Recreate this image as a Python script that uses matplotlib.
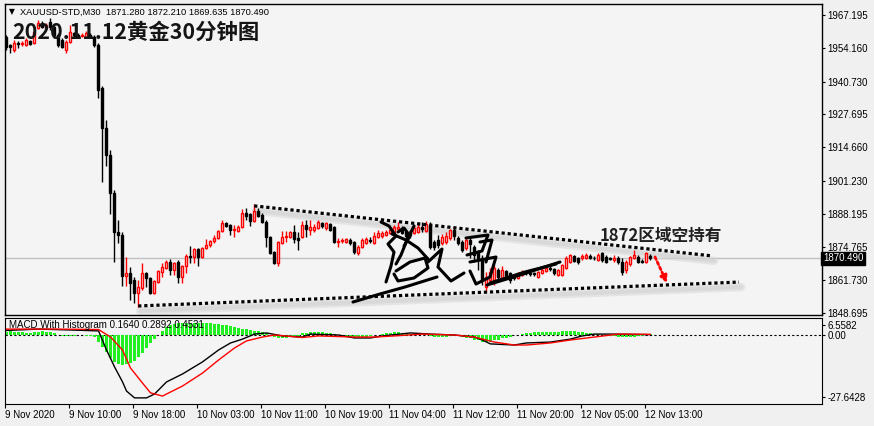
import matplotlib
matplotlib.use("Agg")
import matplotlib.pyplot as plt
from matplotlib.transforms import ScaledTranslation
import numpy as np

plt.rcParams["font.family"] = ["Liberation Sans", "DejaVu Sans"]

# XAUUSD M30 candles (oldest first)
opens = [
    1958.4, 1955.3, 1953.3, 1956.1, 1955.7, 1955.3, 1956.9, 1956.1, 1962.0, 1964.0,
    1962.0, 1964.4, 1962.4, 1959.2, 1957.3, 1953.3, 1956.5, 1960.0, 1959.2, 1959.0,
    1958.4, 1959.2, 1958.4, 1955.3, 1938.2, 1922.3, 1911.5, 1896.4, 1880.9, 1879.7,
    1863.4, 1864.6, 1861.8, 1856.7, 1858.6, 1864.6, 1862.6, 1856.7, 1861.0, 1865.0,
    1866.6, 1869.0, 1865.8, 1869.0, 1863.0, 1867.4, 1871.4, 1871.0, 1874.2, 1871.0,
    1874.6, 1875.8, 1877.3, 1878.5, 1881.3, 1884.5, 1883.7, 1881.7, 1881.3, 1882.9,
    1888.5, 1888.1, 1885.3, 1889.3, 1887.7, 1884.9, 1878.9, 1873.0, 1868.6, 1876.5,
    1878.9, 1878.9, 1880.9, 1878.5, 1878.9, 1883.7, 1881.7, 1881.7, 1882.5, 1884.5,
    1882.5, 1884.1, 1882.9, 1876.9, 1877.3, 1876.9, 1877.7, 1876.9, 1872.6, 1875.0,
    1876.5, 1877.7, 1876.5, 1878.9, 1879.3, 1879.7, 1880.5, 1880.9, 1882.1, 1882.5,
    1880.9, 1880.9, 1880.5, 1880.9, 1882.9, 1881.3, 1883.7, 1876.9, 1877.7, 1876.5,
    1876.9, 1878.5, 1881.7, 1878.5, 1876.9, 1874.6, 1877.7, 1875.0, 1873.0, 1870.6,
    1859.0, 1861.8, 1861.8, 1865.8, 1862.6, 1865.4, 1864.6, 1863.0, 1862.6, 1863.8,
    1865.0, 1864.6, 1864.6, 1863.0, 1864.6, 1865.4, 1866.6, 1866.2, 1863.8, 1863.8,
    1866.6, 1869.0, 1871.4, 1870.6, 1870.6, 1870.6, 1871.4, 1870.6, 1869.8, 1872.6,
    1871.0, 1870.6, 1869.8, 1870.6, 1869.0, 1865.8, 1868.2, 1870.6, 1871.0, 1869.4,
    1869.0, 1871.28,
]
highs = [
    1959.2, 1955.7, 1957.3, 1956.9, 1956.9, 1958.0, 1957.3, 1961.2, 1965.2, 1964.8,
    1964.0, 1966.0, 1963.2, 1960.0, 1958.0, 1957.3, 1963.2, 1960.4, 1960.0, 1960.0,
    1960.8, 1960.0, 1959.2, 1956.1, 1939.0, 1925.5, 1913.5, 1897.6, 1885.7, 1880.9,
    1871.0, 1867.0, 1863.0, 1861.8, 1868.6, 1865.0, 1863.0, 1861.8, 1865.8, 1868.6,
    1869.8, 1870.2, 1869.0, 1869.8, 1867.8, 1872.2, 1875.4, 1874.6, 1874.6, 1875.0,
    1878.1, 1877.7, 1879.7, 1881.7, 1885.7, 1884.9, 1884.1, 1883.7, 1883.7, 1890.1,
    1890.5, 1888.5, 1892.0, 1890.5, 1888.5, 1885.7, 1879.3, 1873.4, 1877.3, 1881.3,
    1881.3, 1881.3, 1883.7, 1880.9, 1885.3, 1885.7, 1885.7, 1884.1, 1885.7, 1884.9,
    1884.9, 1884.5, 1883.3, 1878.5, 1878.5, 1878.5, 1878.5, 1877.3, 1875.8, 1878.5,
    1878.9, 1878.9, 1880.9, 1881.7, 1881.3, 1881.7, 1882.9, 1883.7, 1884.9, 1883.3,
    1881.7, 1881.7, 1883.7, 1884.1, 1884.9, 1885.3, 1884.9, 1877.7, 1879.7, 1880.1,
    1880.9, 1882.1, 1882.5, 1879.3, 1877.7, 1878.5, 1878.9, 1875.8, 1873.8, 1871.8,
    1865.0, 1866.6, 1867.8, 1866.6, 1867.4, 1865.8, 1865.0, 1863.8, 1865.0, 1865.8,
    1865.4, 1865.4, 1865.0, 1865.4, 1866.6, 1867.4, 1867.4, 1866.6, 1866.2, 1868.2,
    1871.4, 1872.2, 1871.8, 1871.0, 1872.2, 1872.6, 1872.2, 1871.4, 1872.6, 1873.0,
    1871.8, 1871.0, 1871.8, 1871.4, 1870.6, 1869.8, 1871.4, 1873.8, 1871.8, 1870.2,
    1873.0, 1872.21,
]
lows = [
    1953.3, 1952.1, 1952.5, 1954.1, 1954.9, 1954.9, 1955.3, 1955.7, 1961.6, 1962.0,
    1961.6, 1961.2, 1958.0, 1954.5, 1954.1, 1952.1, 1956.1, 1958.4, 1958.4, 1958.4,
    1958.0, 1958.4, 1954.5, 1934.2, 1900.8, 1907.2, 1888.1, 1869.0, 1876.5, 1859.4,
    1859.4, 1853.9, 1852.7, 1851.1, 1857.9, 1859.0, 1856.3, 1856.3, 1860.6, 1863.0,
    1866.2, 1863.8, 1863.8, 1860.6, 1860.6, 1864.6, 1868.6, 1868.6, 1867.4, 1870.6,
    1874.2, 1875.0, 1876.5, 1878.1, 1880.9, 1882.9, 1879.7, 1878.9, 1880.9, 1882.5,
    1885.7, 1883.3, 1884.9, 1886.9, 1884.5, 1875.0, 1872.2, 1868.2, 1867.4, 1876.1,
    1876.9, 1878.5, 1876.5, 1873.8, 1878.5, 1878.9, 1879.7, 1880.9, 1882.1, 1882.5,
    1881.7, 1881.3, 1876.5, 1875.0, 1876.5, 1876.5, 1875.8, 1872.2, 1871.8, 1874.6,
    1876.1, 1876.5, 1876.1, 1878.5, 1878.5, 1879.3, 1880.1, 1880.5, 1881.7, 1880.1,
    1877.7, 1878.5, 1880.1, 1880.5, 1880.9, 1880.9, 1874.2, 1873.8, 1874.6, 1875.8,
    1876.1, 1877.7, 1877.7, 1875.8, 1873.0, 1873.8, 1870.6, 1869.0, 1865.8, 1859.8,
    1857.1, 1860.6, 1859.8, 1862.2, 1862.2, 1863.0, 1860.6, 1861.8, 1862.2, 1863.4,
    1863.8, 1863.4, 1863.4, 1862.6, 1864.2, 1865.0, 1865.4, 1863.8, 1863.4, 1863.4,
    1866.2, 1868.6, 1869.0, 1868.2, 1869.8, 1870.2, 1870.2, 1869.8, 1869.4, 1869.0,
    1868.6, 1869.8, 1869.0, 1868.2, 1863.8, 1864.6, 1867.4, 1870.2, 1868.6, 1868.6,
    1868.6, 1869.635,
]
closes = [
    1954.5, 1954.5, 1956.1, 1955.7, 1956.1, 1957.3, 1955.7, 1960.4, 1964.0, 1962.4,
    1963.2, 1962.4, 1959.2, 1955.3, 1954.5, 1956.5, 1960.4, 1959.2, 1959.0, 1959.2,
    1960.0, 1959.0, 1955.3, 1937.4, 1922.3, 1911.5, 1896.4, 1880.9, 1879.7, 1863.4,
    1864.6, 1860.6, 1856.7, 1859.0, 1864.6, 1862.6, 1856.7, 1861.4, 1865.4, 1867.0,
    1869.0, 1865.8, 1868.6, 1863.0, 1867.4, 1871.4, 1871.0, 1874.2, 1871.0, 1874.6,
    1875.8, 1877.3, 1878.5, 1881.3, 1884.5, 1883.3, 1881.7, 1882.1, 1882.9, 1888.5,
    1887.3, 1885.3, 1889.3, 1887.3, 1884.9, 1878.9, 1872.6, 1868.6, 1876.9, 1878.9,
    1879.3, 1880.9, 1878.1, 1877.7, 1883.7, 1882.1, 1882.9, 1882.9, 1884.9, 1883.3,
    1884.5, 1881.7, 1876.9, 1877.3, 1877.7, 1878.1, 1876.5, 1873.0, 1875.0, 1877.7,
    1878.1, 1877.3, 1879.3, 1880.5, 1880.5, 1880.9, 1881.7, 1882.9, 1882.9, 1880.5,
    1879.3, 1879.7, 1882.5, 1882.9, 1882.1, 1884.1, 1875.0, 1875.0, 1875.8, 1878.9,
    1879.3, 1881.7, 1879.3, 1876.5, 1873.8, 1877.7, 1876.1, 1871.8, 1870.6, 1861.8,
    1863.0, 1865.0, 1866.6, 1863.0, 1865.8, 1863.4, 1861.8, 1862.6, 1864.2, 1865.0,
    1864.6, 1864.2, 1864.2, 1865.0, 1865.8, 1866.6, 1866.2, 1864.6, 1865.8, 1867.8,
    1870.6, 1871.8, 1869.4, 1869.0, 1871.4, 1871.8, 1870.6, 1870.4, 1871.8, 1869.8,
    1869.0, 1870.2, 1870.6, 1869.0, 1865.0, 1869.0, 1871.0, 1871.8, 1869.0, 1869.0,
    1872.6, 1870.49,
]

# MACD panel
hist = [
    1.5, 1.6, 1.5, 1.4, 1.1, 1.0, 1.0, 1.3, 1.5, 1.6,
    1.4, 1.1, 0.7, 0.2, -0.3, -0.4, -0.5, -0.3, -0.2, -0.2,
    -0.3, -0.4, -0.9, -3.0, -5.2, -7.3, -10.2, -11.7, -12.7, -13.2,
    -12.8, -12.4, -11.3, -9.5, -7.8, -5.8, -3.6, -1.9, 0.0, 1.9,
    3.4, 4.4, 4.8, 5.2, 5.2, 5.4, 5.4, 5.4, 5.4, 5.3,
    5.2, 5.2, 4.8, 4.7, 4.5, 4.3, 3.9, 3.4, 3.0, 2.6,
    2.5, 2.2, 1.9, 1.8, 1.3, 0.8, -0.4, -1.0, -1.4, -1.4,
    -1.3, -1.0, -0.8, -0.4, 0.8, 0.9, 1.1, 1.3, 1.3, 1.1,
    1.0, 0.9, 0.5, 0.2, -0.2, -0.5, -0.9, -1.1, -1.0, -0.9,
    -0.7, -0.4, -0.2, 0.1, 0.4, 0.7, 0.9, 1.1, 1.1, 1.0,
    0.8, 0.5, 0.3, 0.2, 0.1, 0.0, -0.4, -0.8, -0.9, -0.8,
    -0.7, -0.5, -0.4, -0.5, -0.9, -1.1, -1.5, -2.0, -2.4, -2.9,
    -3.1, -2.9, -2.4, -2.0, -1.5, -1.1, -0.7, -0.2, 0.2, 0.5,
    0.8, 1.0, 1.1, 1.2, 1.3, 1.3, 1.4, 1.4, 1.5, 1.6,
    1.8, 1.8, 1.6, 1.4, 1.2, 1.0, 0.8, 0.5, 0.3, 0.1,
    -0.1, -0.3, -0.5, -0.8, -0.9, -0.9, -0.8, -0.7, -0.5, -0.3,
    -0.2, 0.45,
]
macd_idx = [0, 8, 16, 23, 25, 27, 29, 30, 32, 35, 37, 40, 44, 49, 53, 56, 59, 62, 65, 69,
            74, 76, 83, 87, 91, 94, 101, 106, 112, 117, 119, 121, 127, 130, 136, 141, 144,
            147, 152, 161]
macd_val = [2.0, 2.6, 2.2, 1.8, -6.6, -14.0, -20.6, -24.6, -27.6, -27.6, -25.9, -20.6,
            -17.1, -11.8, -6.6, -3.5, -1.8, 0.4, 0.9, -0.4, -0.9, 0.4, 0.0, -1.3, -1.3,
            -0.4, 0.9, 0.4, 0.0, -0.9, -2.2, -3.9, -4.4, -3.5, -3.1, -1.8, -0.4, 0.4, 0.4,
            0.164]
signal_idx = [0, 12, 23, 26, 29, 31, 34, 36, 39, 40, 44, 49, 53, 57, 60, 64, 67, 74, 78,
              87, 92, 97, 104, 112, 117, 122, 127, 130, 136, 141, 147, 153, 161]
signal_val = [2.6, 2.6, 2.4, -0.9, -6.6, -14.5, -21.1, -25.4, -26.8, -25.9, -22.4, -16.7,
              -11.0, -5.7, -2.6, -0.9, 0.0, -1.1, -0.4, -0.9, -0.9, -0.4, 0.4, 0.0, -0.9,
              -3.1, -4.4, -4.4, -3.5, -2.2, -0.9, 0.4, 0.289]

price_ticks = [1967.195, 1954.160, 1940.730, 1927.695, 1914.660, 1901.230,
               1888.195, 1874.765, 1861.730, 1848.695]
time_labels = ["9 Nov 2020", "9 Nov 10:00", "9 Nov 18:00", "10 Nov 03:00",
               "10 Nov 11:00", "10 Nov 19:00", "11 Nov 04:00", "11 Nov 12:00",
               "11 Nov 20:00", "12 Nov 05:00", "12 Nov 13:00"]

# hand-drawn trend lines (bar index, price)
upper_line = ([62, 176.5], [1891.3, 1871.4])
lower_line = ([33, 183.2], [1851.5, 1861.0])
arrow_from = (162.2, 1871.0)
arrow_to = (165.2, 1860.6)

# rough strokes of the handwritten watermark, in screen pixels
signature = [
    [(381, 222), (389, 226), (396, 236), (388, 244), (394, 252), (391, 266), (386, 282)],
    [(392, 234), (406, 240), (418, 248), (428, 259)],
    [(414, 226), (407, 240), (401, 255), (396, 264)],
    [(398, 232), (404, 228), (410, 236), (404, 246)],
    [(396, 271), (410, 262), (425, 258), (428, 268), (414, 278), (398, 281), (394, 274)],
    [(353, 302), (380, 294), (405, 287), (437, 277)],
    [(428, 262), (442, 249), (438, 267), (451, 281), (464, 273)],
    [(466, 238), (488, 235), (482, 251), (467, 255)],
    [(470, 262), (496, 257), (490, 277), (476, 284), (470, 271)],
    [(480, 242), (492, 240), (486, 262)],
    [(487, 285), (520, 275), (560, 262)],
    [(490, 283), (525, 272), (556, 264)],
]

BG = "#f4f4f4"
W, H = 874, 426


def box(l, t, r, b):
    return [l / W, 1 - b / H, (r - l) / W, (b - t) / H]


fig = plt.figure(figsize=(W / 100, H / 100), dpi=100, facecolor="#f0f0f0")
ax = fig.add_axes(box(5, 4, 822, 315), facecolor=BG)
mx = fig.add_axes(box(5, 318, 822, 404), facecolor=BG)

o, h, l, c = (np.array(a) for a in (opens, highs, lows, closes))
x = np.arange(len(c))
up = c >= o

ax.axhline(c[-1], color="#c0c0c0", lw=1, zorder=1)
ax.vlines(x[up], l[up], h[up], color="red", lw=1, zorder=2)
ax.vlines(x[~up], l[~up], h[~up], color="black", lw=1, zorder=2)
ax.bar(x[up], c[up] - o[up], bottom=o[up], width=0.5, facecolor=BG,
       edgecolor="red", lw=1, zorder=3)
ax.bar(x[~up], c[~up] - o[~up], bottom=o[~up], width=0.5, facecolor="black",
       edgecolor="black", lw=1, zorder=3)

# dotted trend lines with soft shadow
shadow = ax.transData + ScaledTranslation(0.02, -0.05, fig.dpi_scale_trans)
for xs, ys in (upper_line, lower_line):
    ax.plot(xs, ys, color="#d6d6d6", lw=6, alpha=0.5, transform=shadow,
            solid_capstyle="round", zorder=1.5)
    ax.plot(xs, ys, color="#cfcfcf", lw=3, alpha=0.5, transform=shadow,
            solid_capstyle="round", zorder=1.5)
    ax.plot(xs, ys, color="black", lw=2.3, linestyle=(0, (1, 0.9)), zorder=4)

ax.annotate("", xy=arrow_to, xytext=arrow_from,
            arrowprops=dict(arrowstyle="-|>", color="red", lw=2,
                            linestyle=(0, (1, 1)), mutation_scale=10,
                            shrinkA=0, shrinkB=0), zorder=5)

for stroke in signature:
    sx = [(p[0] - 5) / 817 for p in stroke]
    sy = [(315 - p[1]) / 311 for p in stroke]
    ax.plot(sx, sy, color="black", lw=2.2, transform=ax.transAxes,
            solid_capstyle="round", solid_joinstyle="round", zorder=4.5)

ax.set_xlim(-0.3, 203.95)
ax.set_ylim(1847.91, 1971.57)
ax.set_yticks(price_ticks, [f"{v:.3f}" for v in price_ticks])
ax.tick_params(axis="y", left=False, labelleft=False, right=True, labelright=True,
               direction="out", length=2.5, width=0.8, labelsize=7, pad=1.5)
ax.tick_params(axis="x", bottom=False, labelbottom=False)
ax.text(1.0012, c[-1], f"{c[-1]:.3f}", transform=ax.get_yaxis_transform(),
        color="white", fontsize=7, va="center", ha="left",
        bbox=dict(facecolor="black", edgecolor="black", pad=1.2))
for s in ax.spines.values():
    s.set_linewidth(1)

# MACD
mx.bar(x, hist, width=0.7, color="#22ee22", zorder=2)
mx.axhline(0, color="black", lw=0.8, linestyle=(0, (2, 2)), zorder=1)
mx.plot(macd_idx, macd_val, color="black", lw=1, zorder=3)
mx.plot(signal_idx, signal_val, color="red", lw=1, zorder=3)
mx.set_xlim(-0.3, 203.95)
mx.set_ylim(-30.28, 7.46)
# MT4 pushes the extreme labels inside the panel
mx.set_yticks([4.6, 0, -27.1], ["6.5582", "0.00", "-27.6428"])
mx.tick_params(axis="y", left=False, labelleft=False, right=True, labelright=True,
               direction="out", length=2.5, width=0.8, labelsize=7, pad=1.5)
mx.set_xticks(np.arange(len(time_labels)) * 16 - 0.4, time_labels, ha="left")
mx.tick_params(axis="x", direction="out", length=3, width=0.8, labelsize=7, pad=1.5)
mx.text(0.005, 0.92, "MACD With Histogram 0.1640 0.2892 0.4531", transform=mx.transAxes,
        fontsize=7, va="center", zorder=6)

# header and annotations
fig.text(9 / W, 1 - 12 / H, "\u25bc", fontsize=5.5, va="center", family="DejaVu Sans")
fig.text(20 / W, 1 - 12 / H, "XAUUSD-STD,M30  1871.280 1872.210 1869.635 1870.490",
         fontsize=6.7, va="center")
fig.text(12 / W, 1 - 32 / H, "2020.11.12黄金30分钟图", fontsize=15.4, fontweight="bold",
         family=["Noto Sans CJK SC", "DejaVu Sans"], va="center", color="#151515")
fig.text(600 / W, 1 - 236 / H, "1872区域空持有", fontsize=12, fontweight="bold",
         family=["Noto Sans CJK SC", "DejaVu Sans"], va="center", color="#202020")

fig.savefig("out.png", dpi=100, facecolor=fig.get_facecolor())
